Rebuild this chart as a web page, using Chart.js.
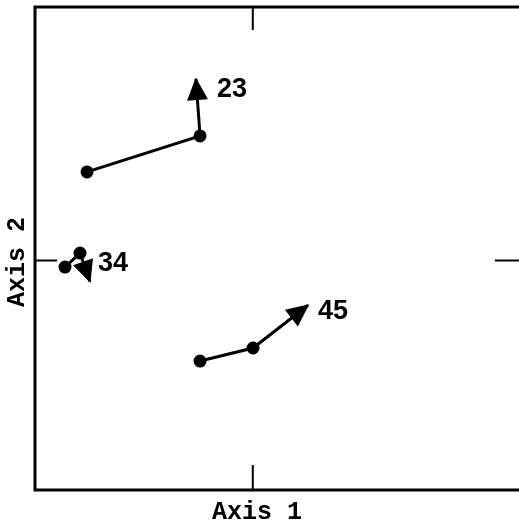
<!DOCTYPE html>
<html>
<head>
<meta charset="utf-8">
<script src="https://cdn.jsdelivr.net/npm/chart.js@4/dist/chart.umd.min.js"></script>
<style>
  html, body { margin: 0; padding: 0; background: #fff; overflow: hidden; }
  #myChart { display: block; }
</style>
</head>
<body>
<canvas id="myChart" width="519" height="526"></canvas>
<script>
// trajectories: start, middle, arrow tip
var seriesNames = ['23', '34', '45'];
var x23 = [-0.685, -0.218, -0.235];
var y23 = [0.367, 0.516, 0.752];
var x34 = [-0.776, -0.714, -0.673];
var y34 = [-0.027, 0.031, -0.087];
var x45 = [-0.218, 0.001, 0.228];
var y45 = [-0.416, -0.362, -0.185];
var axisTitles = ['Axis 1', 'Axis 2'];

// label offsets from arrow tip (pixels)
var labelOffsets = [[21, 11], [8, -18], [10, 6]];

function toPoints(xs, ys) {
  return xs.map(function (x, i) { return { x: x, y: ys[i] }; });
}

var allX = [x23, x34, x45];
var allY = [y23, y34, y45];

var datasets = seriesNames.map(function (name, i) {
  return {
    label: name,
    data: toPoints(allX[i], allY[i]),
    showLine: true,
    borderColor: '#000',
    borderWidth: 3,
    backgroundColor: '#000',
    pointRadius: [5, 5, 0],
    pointHoverRadius: [5, 5, 0],
    tension: 0
  };
});

var framePlugin = {
  id: 'frame',
  afterDatasetsDraw: function (chart) {
    var ctx = chart.ctx;
    var a = chart.chartArea;
    var xs = chart.scales.x, ys = chart.scales.y;
    ctx.save();
    ctx.strokeStyle = '#000';
    ctx.fillStyle = '#000';
    ctx.lineWidth = 3;
    ctx.lineCap = 'square';
    ctx.beginPath();
    ctx.moveTo(a.right + 5, a.top);
    ctx.lineTo(a.left, a.top);
    ctx.lineTo(a.left, a.bottom);
    ctx.lineTo(a.right + 5, a.bottom);
    ctx.stroke();

    // inward ticks at zero
    var x0 = xs.getPixelForValue(0), y0 = ys.getPixelForValue(0);
    ctx.lineWidth = 2;
    ctx.lineCap = 'butt';
    ctx.beginPath();
    ctx.moveTo(x0, a.top); ctx.lineTo(x0, a.top + 23);
    ctx.moveTo(x0, a.bottom); ctx.lineTo(x0, a.bottom - 25);
    ctx.moveTo(a.left, y0); ctx.lineTo(a.left + 22, y0);
    ctx.moveTo(a.right + 5, y0); ctx.lineTo(a.right - 24, y0);
    ctx.stroke();

    // arrow heads and labels
    ctx.font = 'bold 27px "Liberation Sans", Arial, sans-serif';
    ctx.textBaseline = 'middle';
    ctx.textAlign = 'left';
    seriesNames.forEach(function (name, i) {
      var n = allX[i].length;
      var tx = xs.getPixelForValue(allX[i][n - 1]);
      var ty = ys.getPixelForValue(allY[i][n - 1]);
      var px = xs.getPixelForValue(allX[i][n - 2]);
      var py = ys.getPixelForValue(allY[i][n - 2]);
      var ang = Math.atan2(ty - py, tx - px);
      var len = 21, half = 10.5;
      var bx = tx - len * Math.cos(ang), by = ty - len * Math.sin(ang);
      var nx = -Math.sin(ang), ny = Math.cos(ang);
      ctx.beginPath();
      ctx.moveTo(tx + 1.5 * Math.cos(ang), ty + 1.5 * Math.sin(ang));
      ctx.lineTo(bx + nx * half, by + ny * half);
      ctx.lineTo(bx - nx * half, by - ny * half);
      ctx.closePath();
      ctx.fill();
      ctx.fillText(name, tx + labelOffsets[i][0], ty + labelOffsets[i][1]);
    });

    // axis titles
    ctx.font = 'bold 25px "Liberation Mono", "Courier New", monospace';
    ctx.textAlign = 'center';
    ctx.fillText(axisTitles[0], 257, 513);
    ctx.translate(18, 262);
    ctx.rotate(-Math.PI / 2);
    ctx.fillText(axisTitles[1], 0, 0);
    ctx.restore();
  }
};

new Chart(document.getElementById('myChart').getContext('2d'), {
  type: 'scatter',
  data: { datasets: datasets },
  options: {
    responsive: false,
    animation: false,
    layout: { autoPadding: false, padding: { left: 35, top: 7, right: 0, bottom: 36 } },
    plugins: { legend: { display: false }, tooltip: { enabled: false } },
    scales: {
      x: { display: false, min: -0.9, max: 1.1 },
      y: { display: false, min: -0.95, max: 1.05 }
    }
  },
  plugins: [framePlugin]
});
</script>
</body>
</html>
